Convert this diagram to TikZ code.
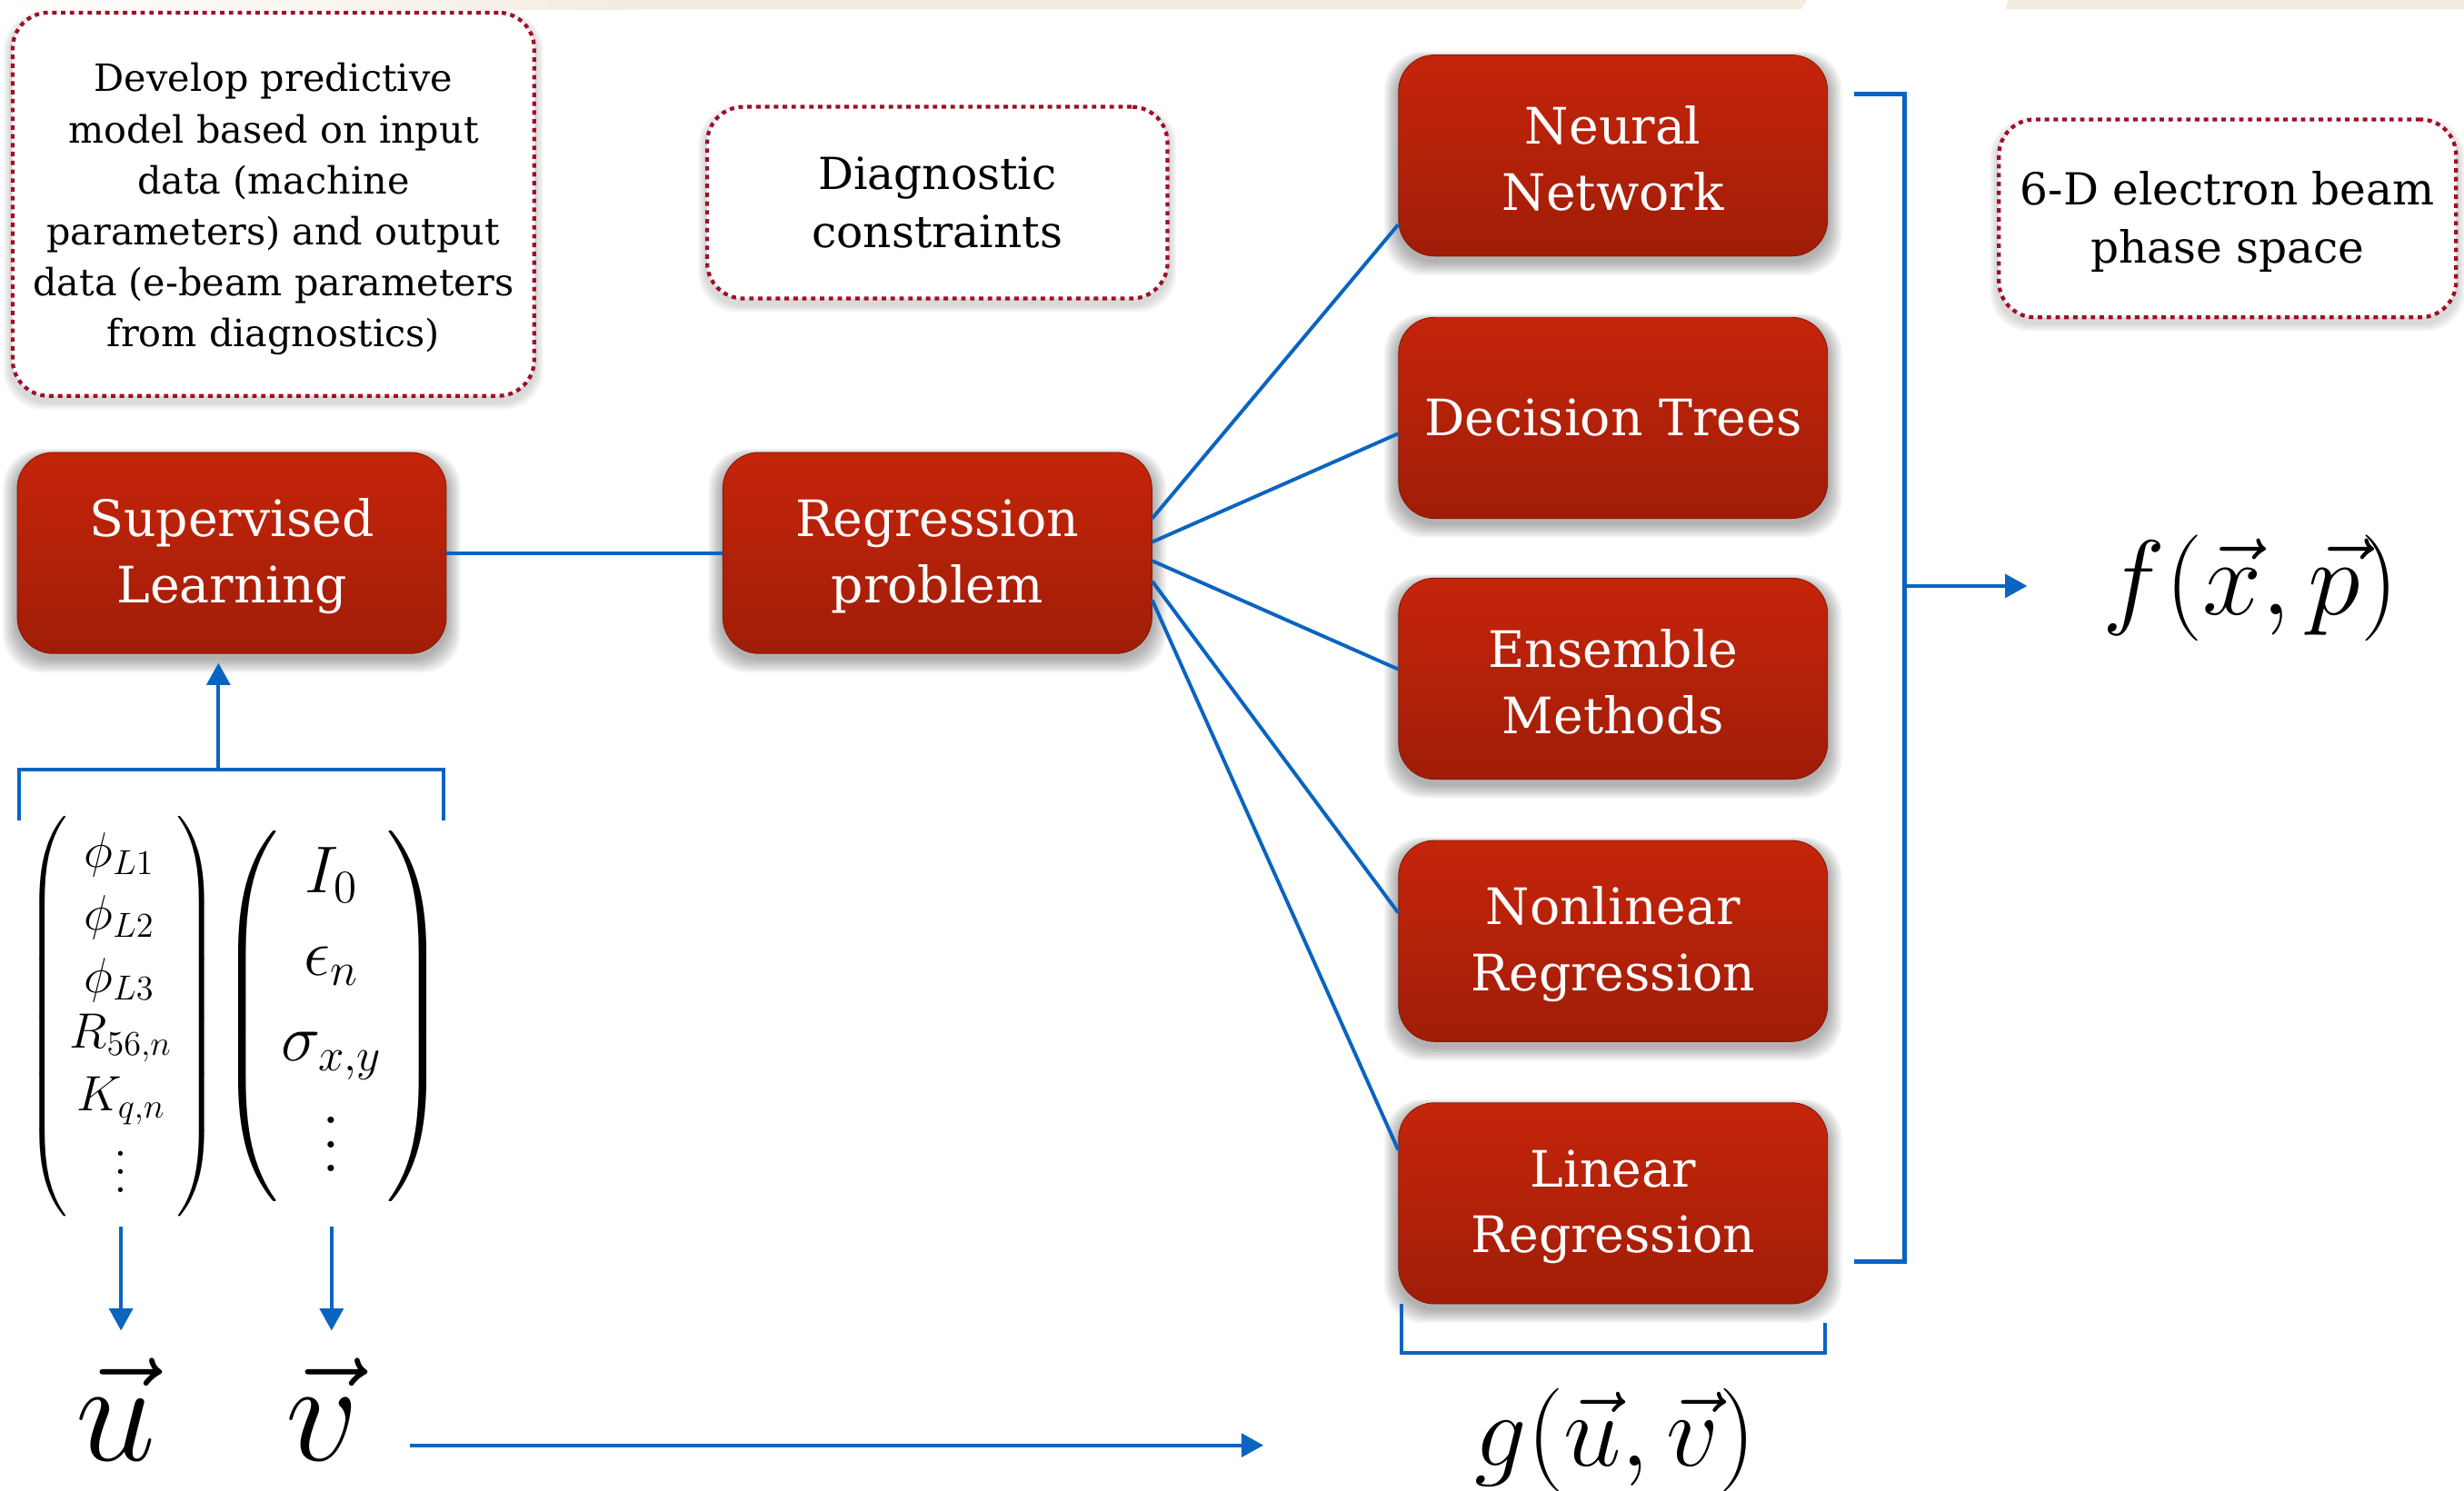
\RequirePackage{fix-cm}
\documentclass[tikz,border=0pt]{standalone}
\usepackage{amsmath}
\usepackage{fontspec}
\setmainfont{DejaVu Serif}
\usetikzlibrary{arrows.meta,calc,backgrounds}
\definecolor{boxtop}{RGB}{197,37,10}
\definecolor{boxbot}{RGB}{160,29,8}
\definecolor{lineblue}{RGB}{10,100,192}
\definecolor{dotred}{RGB}{160,14,40}
\definecolor{beige}{RGB}{243,236,224}
\newcommand{\myvdots}[1]{\vbox{\baselineskip=#1\lineskiplimit=0pt\hbox{$.$}\hbox{$.$}\hbox{$.$}}}
\newcommand{\lpar}[2]{$\delimitershortfall=0pt\delimiterfactor=1000\left(\vrule height #1 depth #2 width 0pt\right.$}
\newcommand{\rpar}[2]{$\delimitershortfall=0pt\delimiterfactor=1000\left.\vrule height #1 depth #2 width 0pt\right)$}
\newcommand{\halo}[3]{%
  \begin{scope}[on background layer]
  \foreach \k in {1,...,#2}{
    \fill[black, opacity=#3, rounded corners=14pt]
      ($(#1.south west)+(-\k*0.9,\k*0.9+3)$) rectangle ($(#1.north east)+(\k*0.9,-\k*0.5+3)$);
  }
  \end{scope}}
\tikzset{
  redbox/.style={rounded corners=13pt, top color=boxtop, bottom color=boxbot,
    draw=boxbot!85!black, line width=0.3pt, text=white,
    minimum width=5.46cm, minimum height=2.56cm, inner sep=0pt, align=center,
    font=\fontsize{18.2}{23.9}\selectfont},
  notebox/.style={rounded corners=13pt, draw=dotred, line width=1.4pt,
    dash pattern=on 1.6pt off 1.6pt, fill=white, inner sep=0pt, align=center},
  conn/.style={draw=lineblue, line width=1.3pt},
  arr/.style={conn, -{Triangle[length=8pt,width=8.5pt]}},
  entA/.style={anchor=base, inner sep=0pt, font=\fontsize{18}{22}\selectfont},
  entB/.style={anchor=base, inner sep=0pt, font=\fontsize{24}{28}\selectfont},
  parA/.style={inner sep=0pt, font=\fontsize{18}{22}\selectfont},
  parB/.style={inner sep=0pt, font=\fontsize{24}{28}\selectfont},
}
\begin{document}
\begin{tikzpicture}[x=0.02cm, y=-0.02cm]
\useasboundingbox (0,0) rectangle (1568,948.6);
% faint slide strip at top
\begin{scope}[on background layer]
  \shade[left color=white, right color=beige] (0,0) rectangle (400,6);
  \fill[beige] (400,0) -- (1150,0) -- (1146,6) -- (400,6) -- cycle;
  \fill[beige] (1278,0) -- (1568,0) -- (1568,6) -- (1276,6) -- cycle;
\end{scope}

% note boxes
\node[notebox, minimum width=6.64cm, minimum height=4.88cm,
      font=\fontsize{13.6}{18.5}\selectfont] (note1) at (174,130)
  {\rule{0pt}{14pt}Develop predictive\\model based on input\\data (machine\\parameters) and output\\data (e-beam parameters\\from diagnostics)};
\node[notebox, minimum width=5.86cm, minimum height=2.44cm,
      font=\fontsize{16}{21}\selectfont] (note2) at (596.5,129)
  {Diagnostic\\constraints};
\node[notebox, minimum width=5.82cm, minimum height=2.52cm,
      font=\fontsize{16}{21}\selectfont] (note3) at (1417.5,139)
  {\rule{0pt}{14.5pt}6-D electron beam\\phase space};

% red boxes
\node[redbox] (sl) at (147.5,352) {\rule{0pt}{16pt}Supervised\\Learning};
\node[redbox] (rp) at (596.5,352) {\rule{0pt}{16pt}Regression\\problem};
\node[redbox] (nn) at (1026.5,99) {\rule{0pt}{16pt}Neural\\Network};
\node[redbox] (dt) at (1026.5,266) {Decision Trees};
\node[redbox] (em) at (1026.5,432) {\rule{0pt}{16pt}Ensemble\\Methods};
\node[redbox] (nr) at (1026.5,599) {\rule{0pt}{16pt}Nonlinear\\Regression};
\node[redbox] (lr) at (1026.5,766) {\rule{0pt}{16pt}Linear\\Regression};

\foreach \n in {sl,rp,nn,dt,em,nr,lr}{\halo{\n}{10}{0.035}}
\foreach \n in {note1,note2,note3}{\halo{\n}{5}{0.03}}

% first column vector (machine parameters)
\coordinate (m1) at (77,647);
\node[parA] (p1l) at (31,647) {\lpar{75.5pt}{66.5pt}};
\node[parA] (p1r) at (125,647) {\rpar{75.5pt}{66.5pt}};
\node[entA] (a1) at (76,552) {$\phi_{L1}$};
\node[entA] (a2) at (76,592) {$\phi_{L2}$};
\node[entA] (a3) at (76,632) {$\phi_{L3}$};
\node[entA] (a4) at (77,667) {$R_{56,n}$};
\node[entA] (a5) at (77,707) {$K_{q,n}$};
\node[entA] (a6) at (77,759) {\myvdots{6.6pt}};

% second column vector (beam parameters)
\coordinate (m2) at (211,647);
\node[parB] (p2l) at (159,647) {\lpar{73pt}{61pt}};
\node[parB] (p2r) at (264,647) {\rpar{73pt}{61pt}};
\node[entB] (b1) at (211,568) {$I_0$};
\node[entB] (b2) at (211,621) {$\epsilon_n$};
\node[entB] (b3) at (211,675) {$\sigma_{x,y}$};
\node[entB] (b4) at (211,746) {\myvdots{8.8pt}};

% vectors and functions
\node[anchor=base, inner sep=0pt] (uvec) at (74,929.5) {\fontsize{52}{56}\selectfont$\vec{u}$};
\node[anchor=base, inner sep=0pt] (vvec) at (205,929.5) {\fontsize{52}{56}\selectfont$\vec{v}$};
\node[anchor=base, inner sep=0pt] (fxp) at (1432,391) {\fontsize{38.5}{40}\selectfont$f(\vec{x},\vec{p})$};
\node[anchor=base, inner sep=0pt] (guv) at (1028,933) {\fontsize{37.5}{40}\selectfont$g(\vec{u},\vec{v})$};

% connectors
\draw[conn] (sl.east) -- (rp.west);
\draw[conn] ($(rp.east)+(0,-22)$) -- ($(nn.west)+(0,44)$);
\draw[conn] ($(rp.east)+(0,-7)$) -- ($(dt.west)+(0,10)$);
\draw[conn] ($(rp.east)+(0,5)$) -- ($(em.west)+(0,-6)$);
\draw[conn] ($(rp.east)+(0,18)$) -- ($(nr.west)+(0,-18)$);
\draw[conn] ($(rp.east)+(0,30)$) -- ($(lr.west)+(0,-34)$);

% left bracket and arrows
\coordinate (lb1) at (12,522);
\coordinate (lb2) at (12,490);
\coordinate (lb3) at (282,490);
\coordinate (lb4) at (282,522);
\coordinate (lbm) at (139,490);
\draw[conn] (lb1) -- (lb2) -- (lb3) -- (lb4);
\draw[arr] (lbm) -- (lbm |- 0,422);
\draw[arr] (m1 |- 0,781) -- (m1 |- 0,847);
\draw[arr] (m2 |- 0,781) -- (m2 |- 0,847);

% bottom arrow
\coordinate (ba1) at (261,920);
\coordinate (ba2) at (804,920);
\draw[arr] (ba1) -- (ba2);

% bottom bracket under models
\draw[conn] ($(lr.south west)+(2,0)$) -- ($(lr.south west)+(2,31)$)
  -- ($(lr.south east)+(-2,31)$) -- ($(lr.south east)+(-2,12)$);

% right bracket
\coordinate (rb1) at (1180,60);
\coordinate (rb2) at (1212,60);
\coordinate (rb3) at (1212,803);
\coordinate (rb4) at (1180,803);
\coordinate (rbm) at (1212,373);
\coordinate (rbt) at (1290,373);
\draw[conn, line width=1.6pt] (rb1) -- (rb2) -- (rb3) -- (rb4);
\draw[arr] (rbm) -- (rbt);
\end{tikzpicture}
\end{document}
